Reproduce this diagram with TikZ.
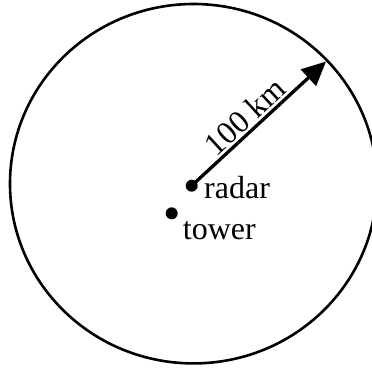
\documentclass[tikz,border=0pt]{standalone}
\usepackage{fontspec}
\setmainfont{Liberation Serif}
\usetikzlibrary{arrows.meta}
\begin{document}
\begin{tikzpicture}[x=1pt,y=1pt,
  dotnode/.style={circle,fill=black,inner sep=0pt,minimum size=12pt},
  lbl/.style={font=\fontsize{32}{32}\selectfont,inner sep=0pt,anchor=base west},
  rangeline/.style={line width=3.3pt,-{Triangle[length=24pt,width=22pt]}}]
\useasboundingbox (0,0) rectangle (372,-369);
\draw[line width=2.6pt] (193.5,-183.7) ellipse [x radius=183.5, y radius=179.7];
\node[dotnode] (radar) at (191.7,-185.7) {};
\node[dotnode] (tower) at (171.7,-213.3) {};
\coordinate (tip) at (326,-61.5);
\draw[rangeline] (radar.center) -- node[pos=0.47,sloped,above,inner sep=2pt,font=\fontsize{32}{32}\selectfont] (dist) {100 km} (tip);
\node[lbl] (radarlbl) at (204,-198.3) {radar};
\node[lbl] (towerlbl) at (182.7,-239) {tower};
\end{tikzpicture}
\end{document}
